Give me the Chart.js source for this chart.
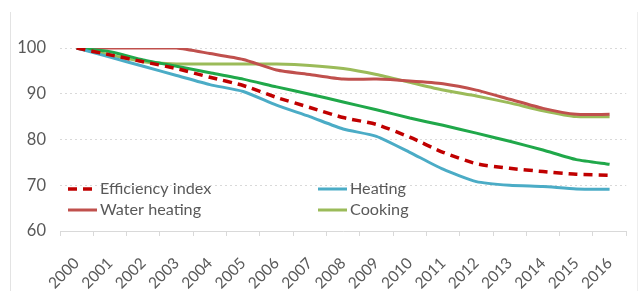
<!DOCTYPE html>
<html><head><meta charset="utf-8">
<script src="https://cdn.jsdelivr.net/npm/chart.js@4/dist/chart.umd.min.js"></script>
<style>
html,body{margin:0;padding:0;background:#fff;}
#wrap{position:relative;width:641px;height:291px;}
#frameL{position:absolute;left:10px;top:12px;width:1px;height:279px;background:#e3e3e3;}
#frameR{position:absolute;left:637px;top:12px;width:1px;height:279px;background:#eeeeee;}
canvas{position:absolute;left:0;top:0;}
</style></head>
<body><div id="wrap"><div id="frameL"></div><div id="frameR"></div><canvas id="c" width="641" height="291"></canvas></div>
<script>
const years = ['2000','2001','2002','2003','2004','2005','2006','2007','2008','2009','2010','2011','2012','2013','2014','2015','2016'];
const efficiencyIndex = [100,98.5,97,95.5,93.6,91.8,89.2,87,84.8,83.3,80.5,77.2,74.7,73.7,73,72.4,72.2];
const heating = [100,98,96,94,92,90.5,87.5,85,82.3,80.7,77.2,73.5,70.8,70,69.7,69.2,69.1];
const waterHeating = [100,100,100,100,98.8,97.5,95.2,94.2,93.2,93.2,92.8,92.2,90.8,88.8,86.8,85.5,85.5];
const cooking = [100,98.5,97,96.5,96.5,96.5,96.5,96.2,95.5,94.2,92.5,90.8,89.5,88,86.3,85,85];
const otherUse = [100,99.2,97.4,96,94.6,93.2,91.5,89.9,88.2,86.5,84.7,83.1,81.4,79.6,77.7,75.6,74.6];
const yTicks = [60,70,80,90,100];

const FONT = 'Lato, "Open Sans", sans-serif';

const legendPlugin = {
  id: 'insideLegend',
  afterDatasetsDraw(chart) {
    const ctx = chart.ctx;
    const ca = chart.chartArea;
    const items = [
      {i:0, x:ca.left+8, y:ca.top+141},
      {i:1, x:ca.left+258, y:ca.top+141},
      {i:2, x:ca.left+8, y:ca.top+162},
      {i:3, x:ca.left+258, y:ca.top+162}
    ];
    ctx.save();
    ctx.font = '16.2px ' + FONT;
    ctx.textBaseline = 'middle';
    ctx.textAlign = 'left';
    items.forEach(it => {
      const ds = chart.data.datasets[it.i];
      ctx.beginPath();
      ctx.strokeStyle = ds.borderColor;
      ctx.lineWidth = ds.borderWidth;
      ctx.setLineDash(ds.borderDash || []);
      ctx.moveTo(it.x, it.y);
      ctx.lineTo(it.x + 29, it.y);
      ctx.stroke();
      ctx.setLineDash([]);
      ctx.fillStyle = '#595959';
      ctx.fillText(ds.label, it.x + 32, it.y);
    });
    ctx.restore();
  }
};

new Chart(document.getElementById('c'), {
  type: 'line',
  data: {
    labels: years,
    datasets: [
      {label:'Efficiency index', data: efficiencyIndex, borderColor:'#C00000', borderWidth:3.5, borderDash:[9,6], order:0},
      {label:'Heating', data: heating, borderColor:'#4BACC6', borderWidth:3, order:1},
      {label:'Water heating', data: waterHeating, borderColor:'#C0504D', borderWidth:3, order:2},
      {label:'Cooking', data: cooking, borderColor:'#9BBB59', borderWidth:3, order:3},
      {label:'', data: otherUse, borderColor:'#20A84A', borderWidth:3, order:1}
    ]
  },
  options: {
    responsive: false,
    animation: false,
    devicePixelRatio: 1,
    layout: {padding: {top: 48, right: 9, left: 0, bottom: 0}},
    elements: {point: {radius: 0, hoverRadius: 0}, line: {tension: 0.2, borderCapStyle:'butt'}},
    plugins: {legend: {display: false}, tooltip: {enabled: false}},
    scales: {
      x: {
        offset: true,
        grid: {display: true, offset: true, drawOnChartArea: false, drawTicks: true, tickLength: 5, color:'#D9D9D9'},
        border: {display: true, color: '#D9D9D9', width: 1},
        ticks: {color:'#595959', font:{family: FONT, size: 15.5}, minRotation:45, maxRotation:45, padding: 18, autoSkip:false},
        afterFit(s){ s.height = 60; }
      },
      y: {
        min: 60, max: 100,
        afterBuildTicks(s){ s.ticks = yTicks.map(v => ({value: v})); },
        grid: {color:'#D9D9D9', drawTicks:false, lineWidth:1},
        border: {display: false, dash:[2,3]},
        ticks: {color:'#595959', font:{family: FONT, size: 16.5}, padding: 14},
        afterFit(s){ s.width = 60; }
      }
    }
  },
  plugins: [legendPlugin]
});
</script>
</body></html>
